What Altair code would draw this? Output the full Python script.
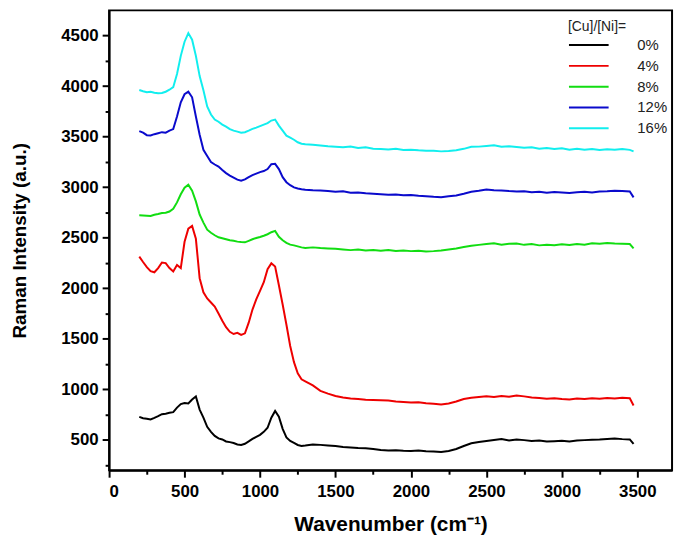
import altair as alt
import pandas as pd

wavenumber = (
    [200, 225, 250, 275, 300, 325, 350, 375, 400, 425, 450, 475, 500, 525, 550, 575,
     600, 625, 650, 675, 700, 725, 750, 775, 800, 825, 850, 875, 900, 925, 950, 975,
     1000, 1025, 1050, 1075, 1100, 1125, 1150, 1175, 1200, 1225, 1250, 1275, 1300,
     1350, 1400, 1450, 1500, 1550, 1600, 1650, 1700, 1750, 1800, 1850, 1900, 1950,
     2000, 2050, 2100, 2150, 2200, 2250, 2300, 2350, 2400, 2450, 2500, 2550, 2600,
     2650, 2700, 2750, 2800, 2850, 2900, 2950, 3000, 3050, 3100, 3150, 3200, 3250,
     3300, 3350, 3400, 3450, 3475]
)

cu0 = [728, 715, 710, 702, 718, 735, 755, 760, 768, 775, 820, 855, 865, 860, 900, 931,
       800, 720, 630, 580, 540, 515, 505, 485, 478, 470, 455, 451, 462, 485, 510, 530,
       550, 580, 620, 720, 787, 730, 610, 525, 490, 470, 450, 441, 445,
       455, 451, 445, 440, 430, 425, 420, 418, 410, 400, 395, 398, 392,
       390, 395, 388, 385, 380, 390, 410, 440, 467, 480, 490, 500, 508,
       495, 505, 498, 490, 495, 485, 488, 492, 485, 495, 498, 502, 505,
       510, 515, 508, 505, 460]

cu4 = [2313, 2260, 2210, 2170, 2159, 2200, 2255, 2250, 2200, 2166, 2230, 2200, 2460, 2590, 2617, 2490,
       2100, 1960, 1900, 1860, 1820, 1750, 1680, 1615, 1570, 1548, 1560, 1540, 1555, 1660, 1790, 1890,
       1975, 2060, 2190, 2247, 2215, 2030, 1840, 1640, 1430, 1270, 1160, 1100, 1080,
       1040, 985, 958, 935, 920, 910, 905, 898, 895, 892, 890, 880, 875,
       870, 872, 862, 858, 850, 860, 880, 905, 918, 925, 931, 925, 935,
       928, 940, 931, 920, 915, 908, 912, 905, 900, 910, 905, 912, 908,
       915, 910, 918, 912, 840]

cu8 = [2722, 2720, 2718, 2715, 2728, 2735, 2745, 2748, 2760, 2787, 2850, 2930, 2995, 3025, 2965, 2860,
       2730, 2650, 2580, 2550, 2525, 2505, 2495, 2485, 2475, 2470, 2462, 2458, 2455, 2470, 2485, 2498,
       2508, 2520, 2535, 2555, 2568, 2510, 2475, 2450, 2432, 2425, 2415, 2405, 2400,
       2405, 2398, 2395, 2392, 2385, 2378, 2385, 2375, 2378, 2372, 2380, 2370, 2375,
       2368, 2372, 2365, 2368, 2375, 2385, 2395, 2408, 2421, 2430, 2438, 2445, 2432,
       2440, 2443, 2430, 2438, 2425, 2432, 2427, 2435, 2428, 2438, 2432, 2445, 2440,
       2448, 2443, 2440, 2438, 2395]

cu12 = [3555, 3540, 3515, 3512, 3525, 3535, 3545, 3540, 3560, 3575, 3700, 3840, 3920, 3946, 3890, 3700,
        3520, 3370, 3310, 3250, 3225, 3205, 3170, 3140, 3115, 3095, 3075, 3064, 3078, 3100, 3120, 3135,
        3150, 3160, 3180, 3228, 3232, 3180, 3100, 3050, 3020, 2998, 2988, 2980, 2975,
        2970, 2968, 2962, 2955, 2960, 2945, 2948, 2940, 2935, 2930, 2925, 2928, 2920,
        2924, 2915, 2912, 2905, 2900, 2910, 2918, 2935, 2955, 2965, 2978, 2970, 2968,
        2962, 2958, 2960, 2950, 2955, 2945, 2952, 2948, 2943, 2950, 2955, 2948, 2958,
        2960, 2965, 2962, 2958, 2900]

cu16 = [3962, 3950, 3940, 3945, 3935, 3930, 3932, 3945, 3965, 3990, 4120, 4300, 4440, 4525, 4460, 4300,
        4100, 3960, 3800, 3720, 3670, 3648, 3620, 3600, 3575, 3560, 3550, 3540, 3545, 3560, 3578, 3590,
        3605, 3620, 3635, 3660, 3670, 3610, 3560, 3510, 3490, 3470, 3445, 3430, 3425,
        3420, 3412, 3405, 3400, 3395, 3402, 3388, 3395, 3382, 3378, 3374, 3380, 3368,
        3372, 3365, 3362, 3360, 3355, 3358, 3366, 3380, 3400, 3402, 3408, 3415, 3400,
        3405, 3398, 3390, 3395, 3380, 3388, 3378, 3385, 3372, 3380, 3370, 3378, 3368,
        3375, 3372, 3378, 3370, 3355]

series_names = ["0%", "4%", "8%", "12%", "16%"]
series_values = [cu0, cu4, cu8, cu12, cu16]
series_colors = ["#000000", "#ee0000", "#11dd11", "#0a0acc", "#11eeee"]

x_ticks = list(range(0, 3751, 250))
y_ticks = list(range(250, 4501, 250))

rows = []
for name, vals in zip(series_names, series_values):
    for w, v in zip(wavenumber, vals):
        rows.append({"Wavenumber": w, "Intensity": v, "Series": name})
df = pd.DataFrame(rows)

FONT = "Liberation Sans"

chart = (
    alt.Chart(df)
    .mark_line(strokeWidth=2)
    .encode(
        x=alt.X(
            "Wavenumber:Q",
            scale=alt.Scale(domain=[0, 3730], nice=False, zero=False),
            axis=alt.Axis(
                values=x_ticks,
                format="d",
                labelExpr="datum.value % 500 === 0 ? datum.label : ''",
                tickSize={"condition": {"test": "datum.value % 500 === 0", "value": 7}, "value": 4},
                title="Wavenumber (cm⁻¹)",
                titleFontSize=21,
                grid=False,
                labelPadding=6,
                titlePadding=15,
            ),
        ),
        y=alt.Y(
            "Intensity:Q",
            scale=alt.Scale(domain=[200, 4750], nice=False, zero=False),
            axis=alt.Axis(
                values=y_ticks,
                format="d",
                labelExpr="datum.value % 500 === 0 ? datum.label : ''",
                tickSize={"condition": {"test": "datum.value % 500 === 0", "value": 7}, "value": 4},
                title="Raman Intensity (a.u.)",
                titleFontSize=19,
                grid=False,
                labelPadding=4,
                titlePadding=32,
            ),
        ),
        color=alt.Color(
            "Series:N",
            sort=series_names,
            scale=alt.Scale(domain=series_names, range=series_colors),
            legend=alt.Legend(
                title="[Cu]/[Ni]=",
                orient="none",
                legendX=463,
                legendY=10,
                symbolType="M-1,0H3",
                symbolSize=400,
                symbolStrokeWidth=2,
                labelOffset=48,
                labelFontSize=15,
                labelFont=FONT,
                labelColor="#222222",
                titleFont=FONT,
                titleColor="#222222",
                titleFontSize=14,
                titleFontWeight="normal",
                titlePadding=0,
                rowPadding=2,
            ),
        ),
        order=alt.Order("Wavenumber:Q"),
        detail="Series:N",
    )
    .properties(width=568, height=464, padding={"left": 2, "top": 0, "right": 5, "bottom": 5})
    .configure_view(stroke="#000000", strokeWidth=2)
    .configure_axis(
        domainColor="#000000",
        domainWidth=2,
        tickColor="#000000",
        tickWidth=2,
        labelFont=FONT,
        labelFontSize=17,
        labelFontWeight="bold",
        labelColor="#000000",
        titleFont=FONT,
        titleFontWeight="bold",
        titleColor="#000000",
    )
)

chart.save("out.html", embed_options={"renderer": "svg", "actions": False})
